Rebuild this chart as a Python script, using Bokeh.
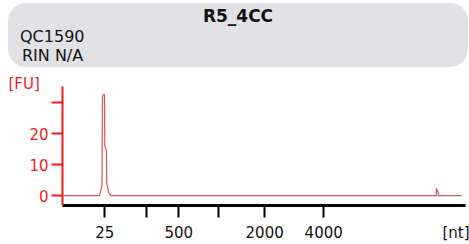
from bokeh.plotting import figure
from bokeh.models import Range1d, FixedTicker, CustomJSTickFormatter, Div
from bokeh.layouts import column
from bokeh.embed import file_html
from bokeh.resources import INLINE

# ---- data ----
sample_name = "R5_4CC"
chip_id = "QC1590"
rin_text = "RIN N/A"

# ladder migration positions (s) and sizes (nt)
ladder_time = [24.30, 29.55, 33.56, 38.57, 44.33, 51.73]
ladder_nt = ["25", "", "500", "", "2000", "4000"]
x_unit_label = "[nt]"
x_unit_time = 69.33
y_unit_label = "[FU]"

# electropherogram trace
time_s = [19.1, 23.64, 23.95, 24.01, 24.14, 24.26, 24.30, 24.51, 24.54, 24.80, 25.02,
          65.84, 65.86, 66.02, 66.08, 66.10, 69.0]
fu = [0.0, 0.0, 3.2, 32.0, 32.6, 32.6, 16.0, 14.5, 4.0, 1.0, 0.0,
      0.0, 2.4, 1.3, 1.1, 0.0, 0.0]

y_ticks = [0, 10, 20, 30]

RED = "#ee1c1c"
TRACE = "#d65555"
FONT = "DejaVu Sans"

# ---- header ----
header_html = f"""
<div style="position:absolute;left:8px;top:3px;width:460px;height:64px;
 background:#e1e1e6;border-radius:18px;font-family:'DejaVu Sans';color:#111;">
 <div style="position:absolute;left:0;right:0;top:4px;text-align:center;font-weight:bold;
  font-size:17px;line-height:18px;">{sample_name}</div>
 <div style="position:absolute;left:12px;top:26px;font-size:16px;line-height:16px;">{chip_id}</div>
 <div style="position:absolute;left:14px;top:45px;font-size:16px;line-height:16px;">{rin_text}</div>
</div>
"""
h = Div(text=header_html, width=469, height=67, margin=0,
        styles={"position": "relative", "overflow": "visible"})

# ---- plot ----
p = figure(width=469, height=177, output_backend="svg", toolbar_location=None,
           x_range=Range1d(19.0, 69.5), y_range=Range1d(-3.2, 35.2),
           min_border_left=62, min_border_right=4, min_border_top=19, min_border_bottom=39,
           margin=0)
p.grid.visible = False
p.outline_line_color = None

p.title.text = y_unit_label
p.title.align = "left"
p.title.offset = -54
p.title.text_font = FONT
p.title.text_font_size = "15px"
p.title.text_font_style = "normal"
p.title.text_color = RED
p.title.standoff = -13

p.line(time_s, fu, line_color=TRACE, line_width=1.2)

# major ticks carry the labels (marks hidden); minor ticks draw the ladder marks
xa = p.xaxis[0]
xa.ticker = FixedTicker(ticks=ladder_time + [x_unit_time], minor_ticks=ladder_time)
xa.formatter = CustomJSTickFormatter(args=dict(labels=ladder_nt + [x_unit_label]),
                                     code="return labels[index];")
xa.axis_line_color = "black"
xa.axis_line_width = 3
xa.major_tick_line_color = None
xa.major_tick_in = 0
xa.major_tick_out = 12
xa.minor_tick_line_color = "black"
xa.minor_tick_line_width = 2
xa.minor_tick_in = 0
xa.minor_tick_out = 12
xa.major_label_standoff = 6
xa.major_label_text_font = FONT
xa.major_label_text_font_size = "15px"
xa.major_label_text_color = "#111111"

ya = p.yaxis[0]
ya.ticker = FixedTicker(ticks=y_ticks)
ya.formatter = CustomJSTickFormatter(code="return tick >= 30 ? '' : String(tick);")
ya.axis_line_color = RED
ya.axis_line_width = 2
ya.major_tick_line_color = RED
ya.major_tick_line_width = 2
ya.major_tick_in = 0
ya.major_tick_out = 11
ya.minor_tick_line_color = None
ya.major_label_standoff = 3
ya.major_label_text_font = FONT
ya.major_label_text_font_size = "15px"
ya.major_label_text_color = RED

layout = column(h, p, spacing=0)
open("out.html", "w").write(file_html(layout, INLINE))
